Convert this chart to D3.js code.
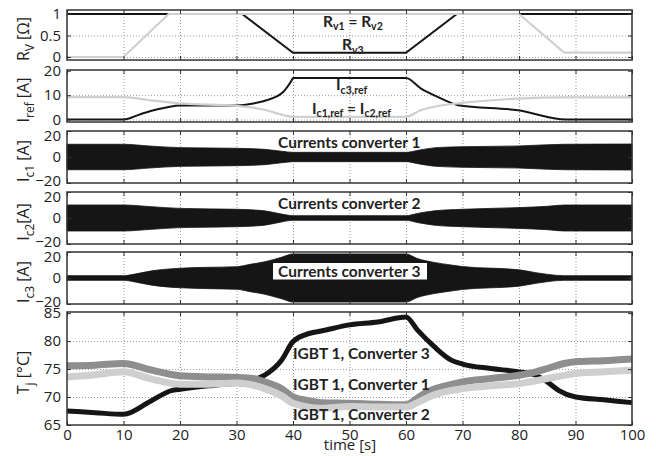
<!DOCTYPE html>
<html>
<head>
<meta charset="utf-8">
<script src="https://cdn.jsdelivr.net/npm/d3@7"></script>
<style>
  body { margin: 0; background: #fff; }
  svg text { font-family: "Open Sans", sans-serif; fill: #222; }
  .note { font-family: Lato, sans-serif; font-weight: 700; }
  .grid line { stroke: #9a9a9a; stroke-dasharray: 1 2; }
  .grid path { display: none; }
  .tick-axis path { display: none; }
  .tick-axis line { stroke: #333; }
</style>
</head>
<body>
<div id="container"></div>
<script>
// Time axis
const timeTicks = [0, 10, 20, 30, 40, 50, 60, 70, 80, 90, 100];
const timeGrid = [10, 20, 30, 40, 50, 60, 70, 80, 90];

// Variable resistances
const rv3Time = [0, 31, 40, 60, 69, 100];
const rv3 = [1, 1, 0.1, 0.1, 1, 1];
const rv12Time = [0, 10, 18, 80, 88, 100];
const rv12 = [0, 0, 1, 1, 0.1, 0.1];

// Reference currents
const ic3RefTime = [0, 10, 13, 16, 19, 20, 30, 33, 35.3, 38.3, 39.8, 40, 60, 62.6, 65.6, 69.2, 79.8, 88.3, 100];
const ic3Ref = [0, 0, 2.2, 4.2, 5.6, 5.8, 5.8, 6.6, 7.9, 11.4, 16.2, 17, 17, 12.8, 9.3, 5.9, 3.8, 0, 0];
const ic12RefTime = [0, 10, 14.6, 20, 30, 35.3, 38.3, 40, 60, 62.6, 65.6, 69.2, 79.8, 88, 100];
const ic12Ref = [9.2, 9.2, 7.9, 6.6, 5.6, 3.8, 1.8, 1.1, 1.1, 3.8, 5.5, 6.6, 8.6, 9.1, 9.1];

// Current envelopes (peak amplitude)
const ic1Time = [0, 10, 14.5, 20, 30, 35, 38, 40, 60, 62.4, 65.3, 70, 80, 88, 100];
const ic1Amp = [9.8, 9.8, 8.5, 7.2, 6.7, 5.9, 4.4, 3.6, 3.6, 5.4, 7.2, 7.9, 8.5, 9.8, 10];
const ic2Time = [0, 10, 15, 20, 30, 35, 38, 40, 60, 62, 65, 70, 80, 85, 88, 100];
const ic2Amp = [10, 10, 8.7, 7.4, 6.7, 5.5, 3, 1.8, 1.8, 3.5, 5.5, 6.7, 8, 9, 10, 10];
const ic3Time = [0, 10, 12, 15, 20, 25, 30, 32.4, 35, 38, 40, 60, 62, 65, 68, 70, 80, 83, 88, 100];
const ic3Amp = [1.8, 1.8, 3, 5.5, 7.5, 8.2, 8.7, 10.5, 12.5, 16, 18.5, 18.5, 15, 12, 10, 8.8, 6.3, 4.1, 1.8, 1.8];

// Junction temperatures
const tjC3Time = [0, 5, 10, 14.7, 18.6, 20, 25, 30, 32, 33, 35, 38, 40, 43, 45, 50, 55, 60, 62, 65, 68, 70, 75, 80, 83, 85, 87, 90, 95, 100];
const tjC3 = [67.5, 67.2, 66.9, 69.2, 71.2, 71.4, 72, 72.4, 72.3, 73, 73.9, 76.6, 79.9, 81.4, 81.8, 82.9, 83.4, 84.3, 82, 79, 76.6, 75.9, 75.1, 74.5, 73.9, 72.7, 71.2, 70, 69.5, 69];
const tjC1Time = [0, 5, 10, 15, 20, 25, 30, 33, 35, 38, 40, 43, 45, 50, 55, 60, 62, 64, 67, 70, 75, 80, 83, 85, 88, 90, 95, 100];
const tjC1 = [75.6, 75.7, 76, 74.8, 73.8, 73.6, 73.5, 73.3, 72.7, 71.5, 70, 69.3, 69, 68.9, 68.7, 68.6, 69.8, 71, 72, 72.7, 73.3, 73.9, 74.5, 75.1, 76, 76.3, 76.5, 76.8];
const tjC2Time = [0, 5, 10, 15, 20, 25, 30, 35, 38, 40, 45, 50, 55, 60, 62, 65, 70, 75, 80, 85, 90, 95, 100];
const tjC2 = [73.6, 74, 74.5, 73.2, 72.3, 72.3, 72.5, 71.5, 70.2, 68.9, 68, 68.3, 68.2, 68.2, 69, 70.4, 71.5, 72, 72.4, 73.3, 74.2, 74.5, 74.8];

const width = 656, height = 456;
const zip = (t, v) => t.map((d, i) => [d, v[i]]);

const svg = d3.select("#container").append("svg")
  .attr("width", width)
  .attr("height", height);

const x = d3.scaleLinear().domain([0, 100]).range([67, 632]);

// Stacked panels, top to bottom
const panels = [
  { top: 10, bottom: 60, domain: [-0.07, 1.093], ticks: [0, 0.5, 1], grid: [0, 0.5] },
  { top: 70, bottom: 122, domain: [-1, 20.3], ticks: [0, 10, 20], grid: [0, 10] },
  { top: 131, bottom: 183, domain: [-20, 20], ticks: [-20, 0, 20], grid: [0], inset: true },
  { top: 192, bottom: 244, domain: [-20, 20], ticks: [-20, 0, 20], grid: [0], inset: true },
  { top: 252, bottom: 304, domain: [-20, 20], ticks: [-20, 0, 20], grid: [0], inset: true },
  { top: 312, bottom: 425, domain: [65, 85.2], ticks: [65, 70, 75, 80, 85], grid: [70, 75, 80] }
];

panels.forEach(p => {
  p.y = d3.scaleLinear().domain(p.domain).range([p.bottom, p.top]);
  p.g = svg.append("g");
  p.h = p.bottom - p.top;

  // dotted grid
  p.g.append("g").attr("class", "grid")
    .attr("transform", `translate(0,${p.bottom})`)
    .call(d3.axisBottom(x).tickValues(timeGrid).tickSize(-p.h).tickFormat(""));
  p.g.append("g").attr("class", "grid")
    .attr("transform", `translate(${x(0)},0)`)
    .call(d3.axisLeft(p.y).tickValues(p.grid).tickSize(-(x(100) - x(0))).tickFormat(""));

  p.data = p.g.append("g");
});

function drawFrame(p, isLast) {
  const g = p.g.append("g");
  g.append("rect")
    .attr("x", x(0)).attr("y", p.top)
    .attr("width", x(100) - x(0)).attr("height", p.h)
    .attr("fill", "none").attr("stroke", "#333").attr("stroke-width", 1.5);

  g.append("g").attr("class", "tick-axis")
    .attr("transform", `translate(0,${p.bottom})`)
    .call(d3.axisBottom(x).tickValues(timeTicks).tickSizeInner(-4).tickSizeOuter(0)
      .tickPadding(4.5).tickFormat(isLast ? d3.format("d") : ""))
    .selectAll("text").style("font-size", "15px").attr("fill", "#222");
  g.append("g").attr("class", "tick-axis")
    .attr("transform", `translate(0,${p.top})`)
    .call(d3.axisTop(x).tickValues(timeTicks).tickSizeInner(-4).tickSizeOuter(0).tickFormat(""));

  const yl = g.append("g").attr("class", "tick-axis")
    .attr("transform", `translate(${x(0)},0)`)
    .call(d3.axisLeft(p.y).tickValues(p.ticks).tickSizeInner(-4).tickSizeOuter(0)
      .tickPadding(6).tickFormat(d3.format("")));
  yl.selectAll("text").style("font-size", "15px").attr("fill", "#222")
    .attr("transform", d => {
      if (!p.inset) return null;
      if (d === p.domain[1]) return "translate(0,4.5)";
      if (d === p.domain[0]) return "translate(0,-2)";
      return null;
    });
  g.append("g").attr("class", "tick-axis")
    .attr("transform", `translate(${x(100)},0)`)
    .call(d3.axisRight(p.y).tickValues(p.ticks).tickSizeInner(-4).tickSizeOuter(0).tickFormat(""));
}

// text with subscripts: parts = [[text, isSub], ...]
function richText(sel, parts, mainSize, subSize, shift) {
  let sub = false;
  parts.forEach(([t, s]) => {
    const ts = sel.append("tspan").text(t).style("font-size", (s ? subSize : mainSize) + "px");
    if (s && !sub) ts.attr("dy", shift);
    if (!s && sub) ts.attr("dy", -shift);
    sub = s;
  });
  return sel;
}

const black = "#151515", lightGray = "#cfcfcf", midGray = "#8e8e8e";

// R_V panel
{
  const p = panels[0];
  const line = d3.line().x(d => x(d[0])).y(d => p.y(d[1]));
  p.data.append("path").datum(zip(rv3Time, rv3)).attr("d", line)
    .attr("fill", "none").attr("stroke", black).attr("stroke-width", 2);
  p.data.append("path").datum(zip(rv12Time, rv12)).attr("d", line)
    .attr("fill", "none").attr("stroke", lightGray).attr("stroke-width", 2.2);
  richText(p.g.append("text").attr("class", "note").attr("x", 323).attr("y", 26.5),
    [["R", false], ["v1", true], [" = R", false], ["v2", true]], 15.5, 10.5, 3.5);
  richText(p.g.append("text").attr("class", "note").attr("x", 342).attr("y", 50),
    [["R", false], ["v3", true]], 15.5, 10.5, 3.5);
}

// reference currents panel
{
  const p = panels[1];
  const line = d3.line().x(d => x(d[0])).y(d => p.y(d[1])).curve(d3.curveMonotoneX);
  p.data.append("path").datum(zip(ic3RefTime, ic3Ref)).attr("d", line)
    .attr("fill", "none").attr("stroke", black).attr("stroke-width", 2);
  p.data.append("path").datum(zip(ic12RefTime, ic12Ref)).attr("d", line)
    .attr("fill", "none").attr("stroke", lightGray).attr("stroke-width", 2.2);
  richText(p.g.append("text").attr("class", "note").attr("x", 336).attr("y", 90),
    [["I", false], ["c3,ref", true]], 15.5, 10.5, 3.5);
  richText(p.g.append("text").attr("class", "note").attr("x", 312).attr("y", 113.5),
    [["I", false], ["c1,ref", true], [" = I", false], ["c2,ref", true]], 15.5, 10.5, 3.5);
}

// converter current envelopes
[[ic1Time, ic1Amp, "Currents converter 1", 148], [ic2Time, ic2Amp, "Currents converter 2", 208.5],
 [ic3Time, ic3Amp, "Currents converter 3", 277]].forEach(([t, a, label, ty], k) => {
  const p = panels[2 + k];
  const area = d3.area().x(d => x(d[0])).y0(d => p.y(-d[1])).y1(d => p.y(d[1]))
    .curve(d3.curveMonotoneX);
  p.data.append("path").datum(zip(t, a)).attr("d", area)
    .attr("fill", black).attr("stroke", black).attr("stroke-width", 0.8);
  if (k === 2) {
    p.g.append("rect").attr("x", 273).attr("y", 263).attr("width", 154).attr("height", 16.5)
      .attr("fill", "#fff");
  }
  p.g.append("text").attr("class", "note").attr("x", 278).attr("y", ty)
    .style("font-size", "15.5px").text(label);
});

// junction temperatures
{
  const p = panels[5];
  const line = d3.line().x(d => x(d[0])).y(d => p.y(d[1])).curve(d3.curveMonotoneX);
  p.data.append("path").datum(zip(tjC3Time, tjC3)).attr("d", line)
    .attr("fill", "none").attr("stroke", black).attr("stroke-width", 5);
  p.data.append("path").datum(zip(tjC1Time, tjC1)).attr("d", line)
    .attr("fill", "none").attr("stroke", midGray).attr("stroke-width", 7);
  p.data.append("path").datum(zip(tjC2Time, tjC2)).attr("d", line)
    .attr("fill", "none").attr("stroke", lightGray).attr("stroke-width", 7);
  [["IGBT 1, Converter 3", 358.5], ["IGBT 1, Converter 1", 390], ["IGBT 1, Converter 2", 420]]
    .forEach(([t, ty]) => {
      p.g.append("text").attr("class", "note").attr("x", 293).attr("y", ty)
        .style("font-size", "15.5px").text(t);
    });
}

panels.forEach((p, i) => drawFrame(p, i === panels.length - 1));

// axis titles
const yTitles = [
  [[["R", false], ["V", true], [" [Ω]", false]], 0],
  [[["I", false], ["ref", true], [" [A]", false]], 1],
  [[["I", false], ["c1", true], [" [A]", false]], 2],
  [[["I", false], ["c2", true], ["[A]", false]], 3],
  [[["I", false], ["c3", true], [" [A]", false]], 4],
  [[["T", false], ["j", true], [" [°C]", false]], 5]
];
yTitles.forEach(([parts, i]) => {
  const p = panels[i];
  const cy = (p.top + p.bottom) / 2 + 4;
  richText(svg.append("text").attr("text-anchor", "middle")
    .attr("transform", `translate(29,${cy}) rotate(-90)`), parts, 16, 12, 5);
});

svg.append("text").attr("x", 350).attr("y", 450).attr("text-anchor", "middle")
  .style("font-size", "15px").text("time [s]");
</script>
</body>
</html>
